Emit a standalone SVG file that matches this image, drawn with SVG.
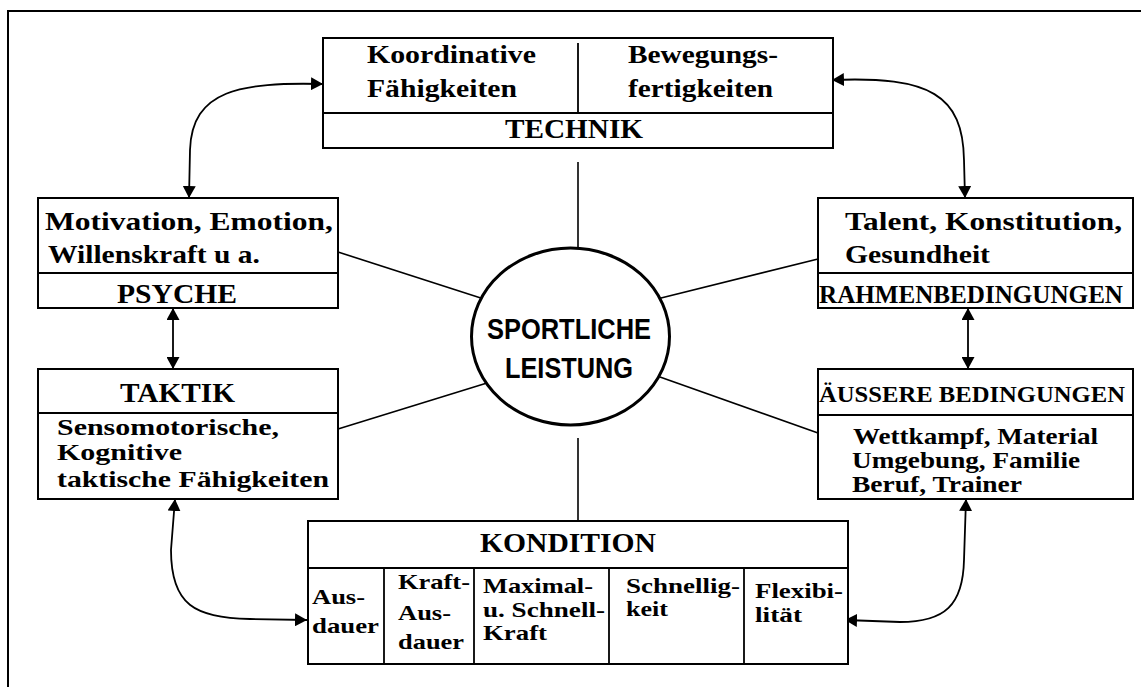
<svg xmlns="http://www.w3.org/2000/svg" width="1141" height="687" viewBox="0 0 1141 687">
<style>
.box{fill:#fff;stroke:#000;stroke-width:2}
.div{stroke:#000;stroke-width:1.8;fill:none}
.t{font-family:"Liberation Serif","Times New Roman",serif;font-weight:bold;fill:#000}
.b{font-size:26px}
.m{font-size:24px}
.h{font-size:28px}
.s{font-size:22px}
.c{font-family:"Liberation Sans",Arial,sans-serif;font-weight:bold;font-size:29px;fill:#000}
.ln{stroke:#000;stroke-width:1.6;fill:none}
.ar{stroke:#000;stroke-width:1.8;fill:none;marker-start:url(#ah);marker-end:url(#ah)}
</style>
<defs>
<marker id="ah" viewBox="0 0 12 13" refX="12" refY="6.5" markerWidth="12" markerHeight="13" markerUnits="userSpaceOnUse" orient="auto-start-reverse">
<path d="M0,0 L12,6.5 L0,13 z" fill="#000"/>
</marker>
</defs>
<rect width="1141" height="687" fill="#fff"/>
<path d="M8 687 L8 11 L1141 11" fill="none" stroke="#000" stroke-width="2"/>

<g id="connectors">
<line class="ln" x1="578" y1="162" x2="578" y2="248"/>
<line class="ln" x1="578" y1="438" x2="578" y2="521"/>
<line class="ln" x1="338" y1="252" x2="487" y2="300"/>
<line class="ln" x1="338" y1="429" x2="487" y2="383"/>
<line class="ln" x1="653" y1="300" x2="818" y2="259"/>
<line class="ln" x1="660" y1="377" x2="818" y2="433"/>
<path class="ar" d="M173 308 L173 369"/>
<path class="ar" d="M968 308 L968 369"/>
<path class="ar" d="M323 84 C240 82 192 90 190 150 L189 198"/>
<path class="ar" d="M832 80 C930 76 963 95 964 160 L965 198"/>
<path class="ar" d="M175 499 L171 550 C171 605 195 618 250 619 L307 620"/>
<path class="ar" d="M845 620 L900 622 C945 622 963 605 964 560 L966 499"/>
</g>

<g id="technik">
<rect class="box" x="323" y="38" width="510" height="110"/>
<line class="div" x1="323" y1="113" x2="833" y2="113"/>
<line class="div" x1="578" y1="43" x2="578" y2="113"/>
<text class="t b" x="367" y="63" textLength="169" lengthAdjust="spacingAndGlyphs">Koordinative</text>
<text class="t b" x="367" y="97" textLength="150" lengthAdjust="spacingAndGlyphs">Fähigkeiten</text>
<text class="t b" x="628" y="63" textLength="150" lengthAdjust="spacingAndGlyphs">Bewegungs-</text>
<text class="t b" x="628" y="97" textLength="145" lengthAdjust="spacingAndGlyphs">fertigkeiten</text>
<text class="t h" x="505" y="138" textLength="138" lengthAdjust="spacingAndGlyphs">TECHNIK</text>
</g>

<g id="psyche">
<rect class="box" x="38" y="198" width="300" height="110"/>
<line class="div" x1="38" y1="273" x2="338" y2="273"/>
<text class="t b" x="45" y="230" textLength="288" lengthAdjust="spacingAndGlyphs">Motivation, Emotion,</text>
<text class="t b" x="48" y="263" textLength="212" lengthAdjust="spacingAndGlyphs">Willenskraft u a.</text>
<text class="t h" x="117" y="303" textLength="120" lengthAdjust="spacingAndGlyphs">PSYCHE</text>
</g>

<g id="taktik">
<rect class="box" x="38" y="369" width="300" height="130"/>
<line class="div" x1="38" y1="413" x2="338" y2="413"/>
<text class="t h" x="120" y="402" textLength="115" lengthAdjust="spacingAndGlyphs">TAKTIK</text>
<text class="t m" x="57" y="435" textLength="222" lengthAdjust="spacingAndGlyphs">Sensomotorische,</text>
<text class="t m" x="57" y="460" textLength="125" lengthAdjust="spacingAndGlyphs">Kognitive</text>
<text class="t m" x="57" y="487" textLength="272" lengthAdjust="spacingAndGlyphs">taktische Fähigkeiten</text>
</g>

<g id="rahmen">
<rect class="box" x="818" y="198" width="315" height="110"/>
<line class="div" x1="818" y1="273" x2="1133" y2="273"/>
<text class="t b" x="845" y="230" textLength="277" lengthAdjust="spacingAndGlyphs">Talent, Konstitution,</text>
<text class="t b" x="845" y="263" textLength="145" lengthAdjust="spacingAndGlyphs">Gesundheit</text>
<text class="t" style="font-size:25px" x="819" y="303" textLength="304" lengthAdjust="spacingAndGlyphs">RAHMENBEDINGUNGEN</text>
</g>

<g id="aeussere">
<rect class="box" x="818" y="369" width="315" height="130"/>
<line class="div" x1="818" y1="415" x2="1133" y2="415"/>
<text class="t" style="font-size:23px" x="819" y="402" textLength="306" lengthAdjust="spacingAndGlyphs">ÄUSSERE BEDINGUNGEN</text>
<text class="t m" x="853" y="444" textLength="245" lengthAdjust="spacingAndGlyphs">Wettkampf, Material</text>
<text class="t m" x="852" y="468" textLength="228" lengthAdjust="spacingAndGlyphs">Umgebung, Familie</text>
<text class="t m" x="852" y="492" textLength="170" lengthAdjust="spacingAndGlyphs">Beruf, Trainer</text>
</g>

<g id="kondition">
<rect class="box" x="308" y="521" width="540" height="143"/>
<line class="div" x1="308" y1="568" x2="848" y2="568"/>
<line class="div" x1="384" y1="568" x2="384" y2="664"/>
<line class="div" x1="474" y1="568" x2="474" y2="664"/>
<line class="div" x1="609" y1="568" x2="609" y2="664"/>
<line class="div" x1="744" y1="568" x2="744" y2="664"/>
<text class="t h" x="480" y="552" textLength="176" lengthAdjust="spacingAndGlyphs">KONDITION</text>
<text class="t s" x="312" y="604" textLength="53" lengthAdjust="spacingAndGlyphs">Aus-</text>
<text class="t s" x="312" y="633" textLength="67" lengthAdjust="spacingAndGlyphs">dauer</text>
<text class="t s" x="398" y="589" textLength="72" lengthAdjust="spacingAndGlyphs">Kraft-</text>
<text class="t s" x="398" y="620" textLength="53" lengthAdjust="spacingAndGlyphs">Aus-</text>
<text class="t s" x="398" y="649" textLength="66" lengthAdjust="spacingAndGlyphs">dauer</text>
<text class="t s" x="483" y="593" textLength="110" lengthAdjust="spacingAndGlyphs">Maximal-</text>
<text class="t s" x="483" y="617" textLength="122" lengthAdjust="spacingAndGlyphs">u. Schnell-</text>
<text class="t s" x="483" y="640" textLength="64" lengthAdjust="spacingAndGlyphs">Kraft</text>
<text class="t s" x="626" y="593" textLength="114" lengthAdjust="spacingAndGlyphs">Schnellig-</text>
<text class="t s" x="626" y="616" textLength="42" lengthAdjust="spacingAndGlyphs">keit</text>
<text class="t s" x="755" y="598" textLength="88" lengthAdjust="spacingAndGlyphs">Flexibi-</text>
<text class="t s" x="755" y="622" textLength="47" lengthAdjust="spacingAndGlyphs">lität</text>
</g>

<g id="leistung">
<ellipse cx="570.5" cy="336.5" rx="99" ry="88.5" fill="#fff" stroke="#000" stroke-width="3"/>
<text class="c" x="487" y="339" textLength="164" lengthAdjust="spacingAndGlyphs">SPORTLICHE</text>
<text class="c" x="505" y="378" textLength="128" lengthAdjust="spacingAndGlyphs">LEISTUNG</text>
</g>
</svg>
